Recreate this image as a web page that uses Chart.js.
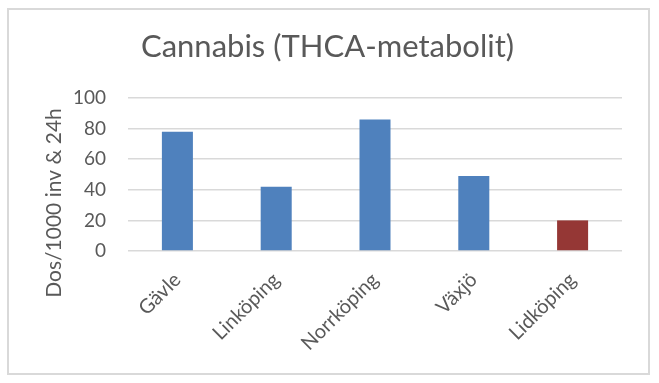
<!DOCTYPE html>
<html>
<head>
<meta charset="utf-8">
<script src="https://cdn.jsdelivr.net/npm/chart.js@4/dist/chart.umd.min.js"></script>
<style>
  html, body { margin: 0; padding: 0; background: #ffffff; }
  #wrap { position: relative; width: 659px; height: 383px; }
  #frame { position: absolute; left: 7px; top: 8px; width: 643px; height: 367px; box-sizing: border-box; border: 2px solid #d9d9d9; pointer-events: none; }
  canvas { position: absolute; left: 0; top: 0; }
</style>
</head>
<body>
<div id="wrap">
  <canvas id="c" width="659" height="383"></canvas>
  <div id="frame"></div>
</div>
<script>
// ---- data ----
const chartTitle = 'Cannabis (THCA-metabolit)';
const yAxisTitle = 'Dos/1000 inv & 24h';
const categories = ['Gävle', 'Linköping', 'Norrköping', 'Växjö', 'Lidköping'];
const values = [78, 42, 86, 49, 20];
const highlightCategory = 'Lidköping';
const yMin = 0;
const yMax = 100;
const yStep = 20;

// ---- styles ----
const FONT = 'Lato, "Open Sans", sans-serif';
const TEXT = '#595959';
const BLUE = '#4f81bd';
const RED = '#953735';

const textPlugin = {
  id: 'texts',
  afterDraw(chart) {
    const ctx = chart.ctx;
    ctx.save();
    ctx.fillStyle = TEXT;
    ctx.textAlign = 'center';
    ctx.textBaseline = 'middle';
    ctx.font = '31px ' + FONT;
    ctx.fillText(chartTitle, 327.5, 47);
    ctx.translate(54, 203);
    ctx.rotate(-Math.PI / 2);
    ctx.font = '21px ' + FONT;
    ctx.fillText(yAxisTitle, 0, 0);
    ctx.restore();
  }
};

new Chart(document.getElementById('c'), {
  type: 'bar',
  data: {
    labels: categories,
    datasets: [{
      data: values,
      backgroundColor: (ctx) => categories[ctx.dataIndex] === highlightCategory ? RED : BLUE,
      borderWidth: 0,
      categoryPercentage: 1,
      barPercentage: 0.314
    }]
  },
  options: {
    responsive: false,
    animation: false,
    devicePixelRatio: 1,
    layout: { padding: { left: 0, right: 37, top: 98, bottom: 0 } },
    plugins: {
      legend: { display: false },
      tooltip: { enabled: false },
      title: { display: false }
    },
    scales: {
      x: {
        grid: { display: false, drawTicks: false },
        border: { display: false },
        ticks: {
          color: TEXT,
          font: { family: FONT, size: 20 },
          minRotation: 45,
          maxRotation: 45,
          padding: 17,
          autoSkip: false
        },
        afterFit(scale) { scale.height = 132; }
      },
      y: {
        min: yMin,
        max: yMax,
        ticks: {
          stepSize: yStep,
          color: TEXT,
          font: { family: FONT, size: 19 },
          padding: 22
        },
        grid: { color: '#d9d9d9', lineWidth: 1.5, drawTicks: false },
        border: { display: false },
        afterFit(scale) { scale.width = 128; }
      }
    }
  },
  plugins: [textPlugin]
});
</script>
</body>
</html>
